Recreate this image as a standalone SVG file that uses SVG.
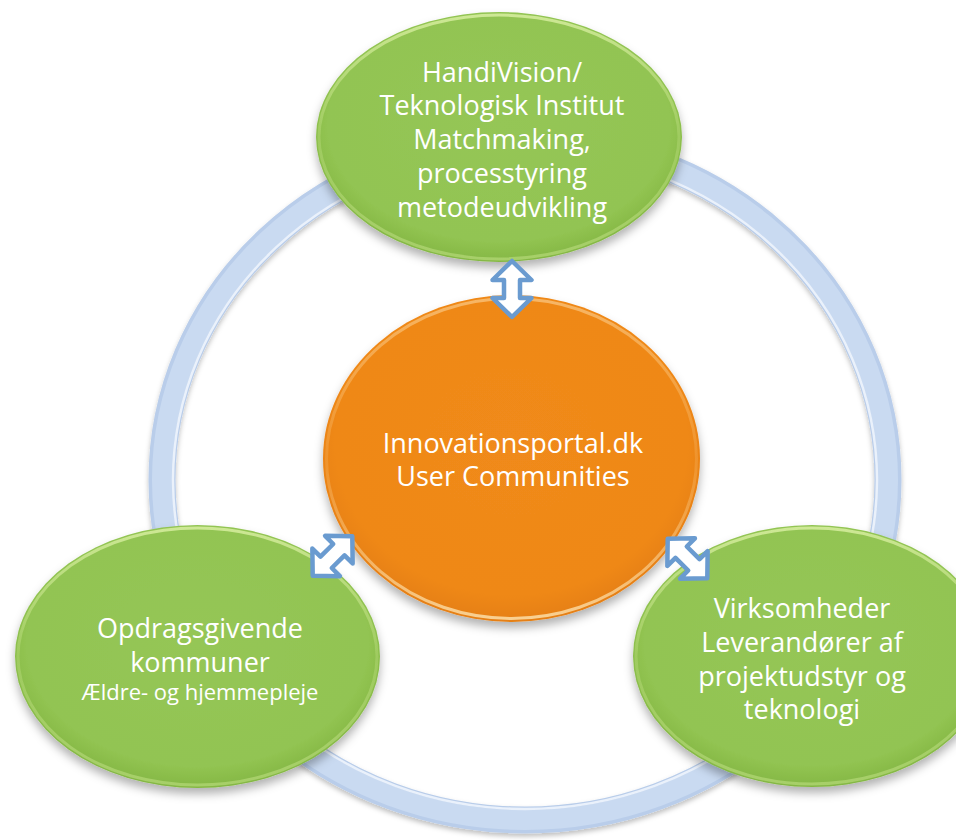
<svg xmlns="http://www.w3.org/2000/svg" width="956" height="840" viewBox="0 0 956 840">
  <defs>
    <radialGradient id="gGreen" cx="50%" cy="45%" r="55%">
      <stop offset="0%" stop-color="#95c656"/>
      <stop offset="85%" stop-color="#92c452"/>
      <stop offset="100%" stop-color="#84b744"/>
    </radialGradient>
    <linearGradient id="gGreenRim" x1="0" y1="0" x2="0" y2="1">
      <stop offset="0%" stop-color="#d4ec9c" stop-opacity="0.9"/>
      <stop offset="50%" stop-color="#c6e48a" stop-opacity="0.3"/>
      <stop offset="100%" stop-color="#b5d978" stop-opacity="0.7"/>
    </linearGradient>
    <radialGradient id="gOrange" cx="50%" cy="45%" r="55%">
      <stop offset="0%" stop-color="#f08a1a"/>
      <stop offset="85%" stop-color="#ef8818"/>
      <stop offset="100%" stop-color="#e57f12"/>
    </radialGradient>
    <linearGradient id="gOrangeRim" x1="0" y1="0" x2="0" y2="1">
      <stop offset="0%" stop-color="#f9c27a" stop-opacity="0.8"/>
      <stop offset="50%" stop-color="#f7b460" stop-opacity="0.3"/>
      <stop offset="100%" stop-color="#fbd9a0" stop-opacity="0.9"/>
    </linearGradient>
    <filter id="shadow" x="-20%" y="-20%" width="140%" height="150%">
      <feDropShadow dx="0" dy="6" stdDeviation="5" flood-color="#000" flood-opacity="0.3"/>
    </filter>
    <filter id="ringShadow" x="-10%" y="-10%" width="120%" height="120%">
      <feDropShadow dx="0" dy="3" stdDeviation="2.5" flood-color="#000" flood-opacity="0.25"/>
    </filter>
    <polygon id="dblArrow" points="-28,0 -9,-19.5 -9,-8 9,-8 9,-19.5 28,0 9,19.5 9,8 -9,8 -9,19.5"/>
  </defs>
  <style>
    .lbl { font-family: "Open Sans", "Noto Sans", "Liberation Sans", sans-serif; fill: #ffffff; text-anchor: middle; font-size: 27px; }
    .small { font-size: 22px; }
    .arrow { fill: #ffffff; stroke: #6a9bd0; stroke-width: 4.5; stroke-linejoin: round; }
    .rim { fill: none; stroke-width: 3; }
  </style>

  <rect width="956" height="840" fill="#ffffff"/>

  <g id="ring" filter="url(#ringShadow)">
    <ellipse cx="525" cy="480" rx="363" ry="340" fill="none" stroke="#b9cdea" stroke-width="27"/>
    <ellipse cx="525" cy="480" rx="363" ry="340" fill="none" stroke="#c9daf1" stroke-width="20"/>
    <ellipse cx="525" cy="480" rx="352" ry="329" fill="none" stroke="#eaf1fb" stroke-width="2.5"/>
  </g>

  <g id="node-top">
    <ellipse cx="499" cy="137" rx="183" ry="125" fill="url(#gGreen)" filter="url(#shadow)"/>
    <ellipse cx="499" cy="137" rx="180" ry="122" class="rim" stroke="url(#gGreenRim)"/>
    <text class="lbl" x="502" y="82">HandiVision/</text>
    <text class="lbl" x="502" y="115">Teknologisk Institut</text>
    <text class="lbl" x="502" y="149">Matchmaking,</text>
    <text class="lbl" x="502" y="183">processtyring</text>
    <text class="lbl" x="502" y="217">metodeudvikling</text>
  </g>

  <g id="node-center">
    <ellipse cx="511.5" cy="458.5" rx="188.5" ry="163.5" fill="url(#gOrange)" filter="url(#shadow)"/>
    <ellipse cx="511.5" cy="458.5" rx="185" ry="160" class="rim" stroke="url(#gOrangeRim)"/>
    <text class="lbl" x="513" y="453">Innovationsportal.dk</text>
    <text class="lbl" x="513" y="486">User Communities</text>
  </g>

  <g id="node-left">
    <ellipse cx="197.5" cy="656.5" rx="182.5" ry="131.5" fill="url(#gGreen)" filter="url(#shadow)"/>
    <ellipse cx="197.5" cy="656.5" rx="179.5" ry="128.5" class="rim" stroke="url(#gGreenRim)"/>
    <text class="lbl" x="200" y="638">Opdragsgivende</text>
    <text class="lbl" x="200" y="672">kommuner</text>
    <text class="lbl small" x="200" y="700">Ældre- og hjemmepleje</text>
  </g>

  <g id="node-right">
    <ellipse cx="812" cy="656" rx="179" ry="131" fill="url(#gGreen)" filter="url(#shadow)"/>
    <ellipse cx="812" cy="656" rx="176" ry="128" class="rim" stroke="url(#gGreenRim)"/>
    <text class="lbl" x="802" y="618">Virksomheder</text>
    <text class="lbl" x="802" y="652">Leverandører af</text>
    <text class="lbl" x="802" y="686">projektudstyr og</text>
    <text class="lbl" x="802" y="719">teknologi</text>
  </g>

  <g id="connectors">
    <use href="#dblArrow" class="arrow" transform="translate(512,289) rotate(90)"/>
    <use href="#dblArrow" class="arrow" transform="translate(332.5,556) rotate(-45)"/>
    <use href="#dblArrow" class="arrow" transform="translate(687.5,558.5) rotate(45)"/>
  </g>
</svg>
